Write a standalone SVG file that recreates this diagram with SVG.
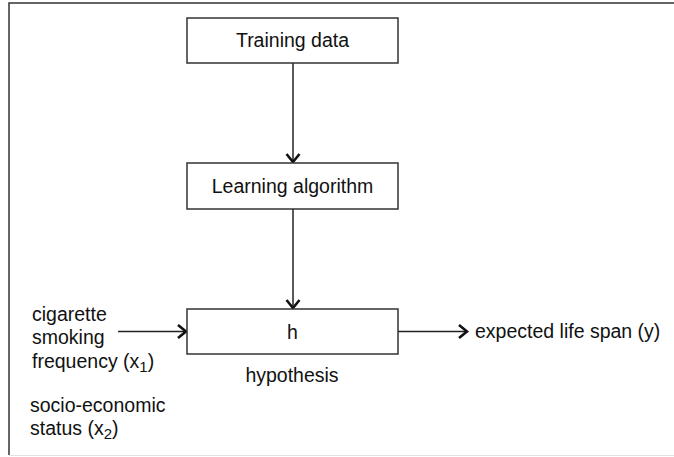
<svg xmlns="http://www.w3.org/2000/svg" width="674" height="457" viewBox="0 0 674 457">
<defs>
<style>
.box{fill:#fff;stroke:#333;stroke-width:1.5}
.t{font-family:"Liberation Sans",Arial,sans-serif;font-size:19.5px;fill:#111}
.c{text-anchor:middle}
.ln{stroke:#222;stroke-width:1.5;fill:none}
</style>
<marker id="arr" markerWidth="14" markerHeight="16" refX="10" refY="8" orient="auto" markerUnits="userSpaceOnUse">
<path d="M2,1.5 L10,8 L2,14.5" fill="none" stroke="#111" stroke-width="2.6"/>
</marker>
</defs>
<rect width="674" height="457" fill="#fff"/>
<g id="frame">
<path d="M9,455 L9,3 L674,3" fill="none" stroke="#333" stroke-width="1.5"/>
<line x1="9" y1="455.5" x2="674" y2="455.5" stroke="#e2e2e2" stroke-width="1"/>
</g>
<g id="connectors">
<line class="ln" x1="293" y1="63" x2="293" y2="162" marker-end="url(#arr)"/>
<line class="ln" x1="293" y1="209" x2="293" y2="308" marker-end="url(#arr)"/>
<line class="ln" x1="118" y1="331.5" x2="186" y2="331.5" marker-end="url(#arr)"/>
<line class="ln" x1="398" y1="331.5" x2="467" y2="331.5" marker-end="url(#arr)"/>
</g>
<g id="training">
<rect class="box" x="187" y="18" width="211" height="45"/>
<text class="t c" x="292.5" y="47">Training data</text>
</g>
<g id="learning">
<rect class="box" x="187" y="163" width="211" height="46"/>
<text class="t c" x="292.5" y="193">Learning algorithm</text>
</g>
<g id="hypothesis">
<rect class="box" x="187" y="309" width="211" height="45"/>
<text class="t c" x="292.5" y="339">h</text>
<text class="t c" x="292" y="382">hypothesis</text>
</g>
<g id="input1">
<text class="t" x="32" y="321">cigarette</text>
<text class="t" x="32" y="344">smoking</text>
<text class="t" x="32" y="368">frequency (x<tspan font-size="15" dy="4">1</tspan><tspan dy="-4">)</tspan></text>
</g>
<g id="input2">
<text class="t" x="30" y="412">socio-economic</text>
<text class="t" x="30" y="435">status (x<tspan font-size="15" dy="4">2</tspan><tspan dy="-4">)</tspan></text>
</g>
<g id="output">
<text class="t" x="475" y="338">expected life span (y)</text>
</g>
</svg>
